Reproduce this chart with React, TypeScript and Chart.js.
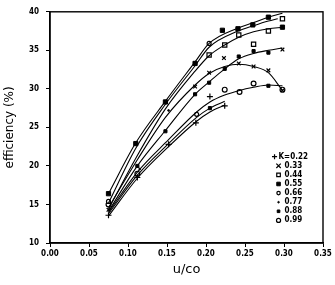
import React, { useEffect, useRef } from "react";
import { Chart, registerables } from "chart.js";

Chart.register(...registerables);

// Axis ticks
const xTicks = [0, 0.05, 0.1, 0.15, 0.2, 0.25, 0.3, 0.35];
const yTicks = [10, 15, 20, 25, 30, 35, 40];

// Legend labels (series K values)
const legendLabels = ["K=0.22", "0.33", "0.44", "0.55", "0.66", "0.77", "0.88", "0.99"];

// Fitted curves (u/co, efficiency %)
const curveT1X = [0.075, 0.11, 0.148, 0.186, 0.204, 0.241, 0.261, 0.28, 0.298];
const curveT1Y = [16.4, 23.0, 28.4, 33.5, 35.9, 37.9, 38.6, 39.3, 39.8];
const curveT2X = [0.075, 0.11, 0.148, 0.186, 0.204, 0.241, 0.261, 0.28, 0.292];
const curveT2Y = [15.2, 22.3, 28.0, 33.0, 35.4, 37.5, 38.2, 38.8, 39.1];
const curveT3X = [0.075, 0.11, 0.148, 0.186, 0.204, 0.224, 0.242, 0.261, 0.28, 0.298];
const curveT3Y = [14.4, 21.0, 27.4, 32.3, 34.3, 35.7, 36.7, 37.4, 37.8, 38.0];
const curveM1X = [0.075, 0.112, 0.148, 0.186, 0.204, 0.224, 0.242, 0.261, 0.28, 0.298];
const curveM1Y = [14.1, 20.0, 24.6, 29.3, 30.9, 32.6, 33.9, 34.6, 35.0, 35.3];
const curveM2X = [0.075, 0.112, 0.148, 0.186, 0.204, 0.224, 0.242, 0.261, 0.28, 0.298];
const curveM2Y = [14.6, 20.8, 26.3, 30.5, 32.0, 32.9, 33.2, 32.9, 32.1, 29.8];
const curveL1X = [0.075, 0.112, 0.152, 0.188, 0.205, 0.224, 0.243, 0.261, 0.28, 0.298];
const curveL1Y = [14.0, 19.2, 23.4, 27.0, 28.3, 29.2, 29.8, 30.2, 30.5, 30.4];
const curveL2X = [0.075, 0.112, 0.152, 0.188, 0.205, 0.224];
const curveL2Y = [13.8, 18.8, 22.9, 26.3, 27.5, 28.4];
const curveL3X = [0.075, 0.112, 0.152, 0.188, 0.205, 0.224];
const curveL3Y = [13.5, 18.4, 22.5, 25.8, 27.0, 27.9];

// Measured points per series
const k022X = [0.075, 0.112, 0.152, 0.187, 0.205, 0.224];
const k022Y = [13.6, 18.5, 22.8, 25.6, 29.0, 27.8];
const k033X = [0.075, 0.186, 0.204, 0.223, 0.242, 0.261, 0.28, 0.298, 0.298];
const k033Y = [14.3, 30.3, 32.1, 34.0, 33.3, 32.9, 32.4, 29.8, 35.1];
const k044X = [0.204, 0.224, 0.242, 0.261, 0.28, 0.298];
const k044Y = [34.4, 35.7, 37.0, 35.8, 37.5, 39.1];
const k055X = [0.075, 0.11, 0.148, 0.186, 0.221, 0.241, 0.26, 0.28, 0.298];
const k055Y = [16.4, 22.9, 28.3, 33.3, 37.6, 37.8, 38.3, 39.3, 38.0];
const k066X = [0.075, 0.204, 0.188];
const k066Y = [15.4, 35.9, 26.7];
const k077X = [0.115, 0.152];
const k077Y = [19.6, 27.2];
const k088X = [0.112, 0.148, 0.186, 0.204, 0.224, 0.242, 0.261, 0.28, 0.205, 0.28];
const k088Y = [20.0, 24.5, 29.3, 30.8, 32.6, 34.2, 34.9, 34.7, 27.5, 30.4];
const k099X = [0.075, 0.112, 0.224, 0.243, 0.261, 0.298];
const k099Y = [15.0, 19.0, 29.9, 29.6, 30.7, 29.9];

const pts = (xs: number[], ys: number[]) => xs.map((x, i) => ({ x, y: ys[i] }));

const FONT = "'Liberation Sans Narrow', 'DejaVu Sans Condensed', sans-serif";

type MarkerSpec = { style: string; radius: number; fill: string; width: number };
const markerSpecs: MarkerSpec[] = [
  { style: "cross", radius: 3, fill: "#000", width: 1.2 },
  { style: "crossRot", radius: 2.6, fill: "#000", width: 1.2 },
  { style: "rect", radius: 3, fill: "#fff", width: 1.2 },
  { style: "rect", radius: 3, fill: "#000", width: 1 },
  { style: "circle", radius: 2, fill: "#fff", width: 1.2 },
  { style: "circle", radius: 0.9, fill: "#000", width: 1 },
  { style: "rect", radius: 2.2, fill: "#000", width: 1 },
  { style: "circle", radius: 2.4, fill: "#fff", width: 1.2 },
];

const seriesX = [k022X, k033X, k044X, k055X, k066X, k077X, k088X, k099X];
const seriesY = [k022Y, k033Y, k044Y, k055Y, k066Y, k077Y, k088Y, k099Y];
const curvesX = [curveT1X, curveT2X, curveT3X, curveM1X, curveM2X, curveL1X, curveL2X, curveL3X];
const curvesY = [curveT1Y, curveT2Y, curveT3Y, curveM1Y, curveM2Y, curveL1Y, curveL2Y, curveL3Y];

function drawMarker(ctx: CanvasRenderingContext2D, m: MarkerSpec, x: number, y: number) {
  const r = m.radius;
  ctx.beginPath();
  ctx.lineWidth = m.width;
  ctx.strokeStyle = "#000";
  ctx.fillStyle = m.fill;
  if (m.style === "cross") {
    ctx.moveTo(x - r, y);
    ctx.lineTo(x + r, y);
    ctx.moveTo(x, y - r);
    ctx.lineTo(x, y + r);
    ctx.stroke();
  } else if (m.style === "crossRot") {
    ctx.moveTo(x - r, y - r);
    ctx.lineTo(x + r, y + r);
    ctx.moveTo(x + r, y - r);
    ctx.lineTo(x - r, y + r);
    ctx.stroke();
  } else if (m.style === "rect") {
    const s = r * 1.4;
    ctx.rect(x - s / 2, y - s / 2, s, s);
    ctx.fill();
    ctx.stroke();
  } else {
    ctx.arc(x, y, r, 0, Math.PI * 2);
    ctx.fill();
    ctx.stroke();
  }
}

const framePlugin = {
  id: "frame",
  afterDraw(chart: any) {
    const { ctx, chartArea } = chart;
    ctx.save();
    ctx.strokeStyle = "#000";
    ctx.lineWidth = 1.4;
    ctx.strokeRect(chartArea.left, chartArea.top, chartArea.right - chartArea.left, chartArea.bottom - chartArea.top);
    // legend inside the plot
    const xs = chart.scales.x;
    const ys = chart.scales.y;
    const symX = xs.getPixelForValue(0.293);
    let rowY = ys.getPixelForValue(21.2);
    const step = 9.1;
    ctx.textBaseline = "middle";
    legendLabels.forEach((lab, i) => {
      const m = markerSpecs[i];
      const sx = i === 0 ? symX - 4 : symX;
      drawMarker(ctx, { ...m, radius: Math.max(m.radius * 0.85, 0.8) }, sx, rowY);
      ctx.font = "bold 8px " + FONT;
      ctx.fillStyle = "#000";
      ctx.textAlign = "left";
      ctx.fillText(lab, i === 0 ? sx + 4 : symX + 6, rowY);
      rowY += step;
    });
    ctx.restore();
  },
};

export default function App() {
  const ref = useRef<HTMLCanvasElement>(null);
  useEffect(() => {
    if (!ref.current) return;
    const datasets: any[] = [];
    curvesX.forEach((cx, i) => {
      datasets.push({
        data: pts(cx, curvesY[i]),
        showLine: true,
        borderColor: "#000",
        borderWidth: 1.1,
        pointRadius: 0,
        cubicInterpolationMode: "monotone",
        fill: false,
      });
    });
    seriesX.forEach((sx, i) => {
      const m = markerSpecs[i];
      datasets.push({
        data: pts(sx, seriesY[i]),
        showLine: false,
        pointStyle: m.style,
        pointRadius: m.radius,
        pointBackgroundColor: m.fill,
        pointBorderColor: "#000",
        pointBorderWidth: m.width,
      });
    });
    const chart = new Chart(ref.current, {
      type: "scatter",
      data: { datasets },
      options: {
        animation: false,
        responsive: false,
        layout: { padding: { top: 10, right: 12, left: 0, bottom: 8 } },
        plugins: { legend: { display: false }, tooltip: { enabled: false } },
        scales: {
          x: {
            type: "linear",
            min: 0,
            max: 0.35,
            afterBuildTicks: (s: any) => {
              s.ticks = xTicks.map((v) => ({ value: v }));
            },
            afterFit: (s: any) => {
              s.height = 34;
            },
            ticks: {
              color: "#000",
              font: { family: FONT, size: 8, weight: "bold" },
              padding: 2,
              maxRotation: 0,
              callback: (v: any) => Number(v).toFixed(2),
            },
            grid: { display: true, drawOnChartArea: false, drawTicks: true, tickLength: 4, color: "#000", lineWidth: 1 },
            border: { display: true, color: "#000", width: 1.4 },
            title: { display: true, text: "u/co", color: "#000", font: { family: "'DejaVu Sans', sans-serif", size: 13 }, padding: { top: 2, bottom: 0 } },
          },
          y: {
            type: "linear",
            min: 10,
            max: 40,
            afterBuildTicks: (s: any) => {
              s.ticks = yTicks.map((v) => ({ value: v }));
            },
            afterFit: (s: any) => {
              s.width = 50;
            },
            ticks: {
              color: "#000",
              font: { family: FONT, size: 8, weight: "bold" },
              padding: 7,
              callback: (v: any) => String(v),
            },
            grid: { display: true, drawOnChartArea: false, drawTicks: true, tickLength: 4, color: "#000", lineWidth: 1 },
            border: { display: true, color: "#000", width: 1.4 },
            title: { display: true, text: "efficiency (%)", color: "#000", font: { family: "'DejaVu Sans', sans-serif", size: 12 }, padding: { top: 3, bottom: 4 } },
          },
        },
      },
      plugins: [framePlugin],
    } as any);
    return () => chart.destroy();
  }, []);
  return (
    <div style={{ position: "fixed", left: 0, top: 0, width: 335, height: 285, background: "#fff" }}>
      <canvas ref={ref} width={335} height={285} style={{ display: "block" }} />
    </div>
  );
}
